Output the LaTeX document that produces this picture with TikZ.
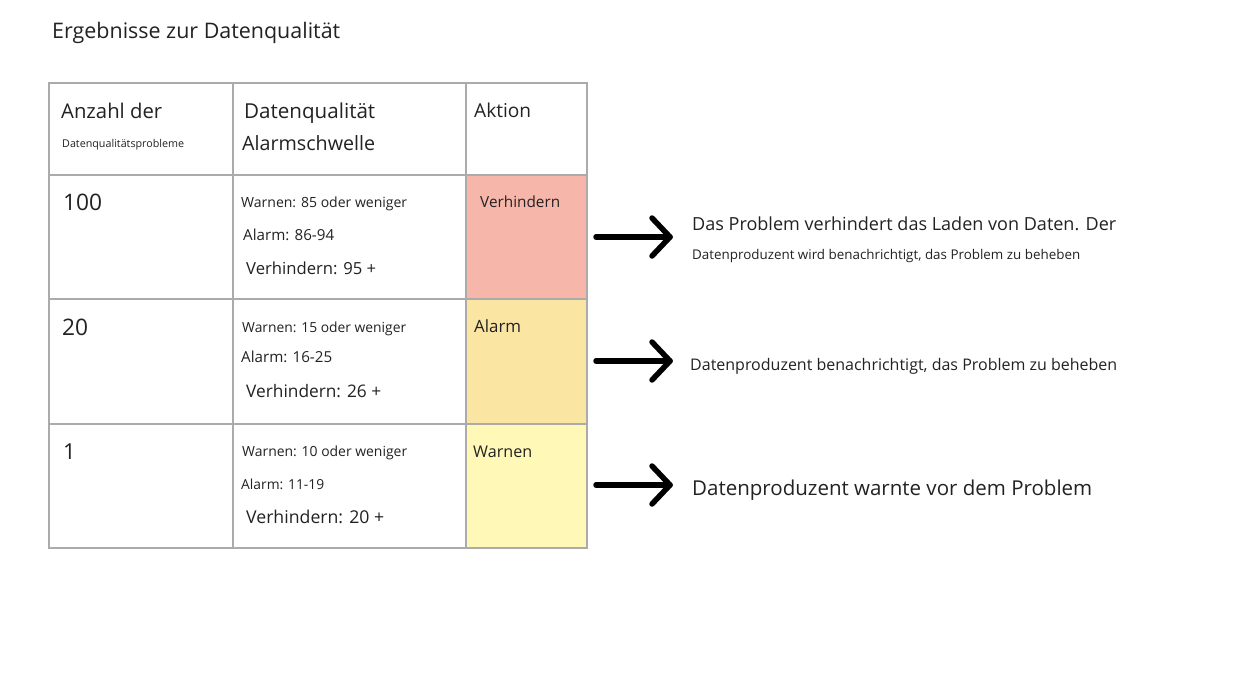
\documentclass[tikz,border=0pt]{standalone}
\usepackage{fontspec}
\setmainfont{Open Sans}
\usepackage{graphicx}
\definecolor{gridc}{HTML}{ABABAB}
\definecolor{textc}{HTML}{222222}
\definecolor{redc}{HTML}{F7B6AA}
\definecolor{orac}{HTML}{FBE5A3}
\definecolor{yelc}{HTML}{FFF8B7}
\newcommand{\fitw}[2]{\resizebox{#1pt}{!}{#2}}
\begin{document}
\begin{tikzpicture}[x=1pt,y=-1pt,
  txt/.style={anchor=base west, inner sep=0pt, text=textc},
  gridline/.style={draw=gridc, line width=2pt},
  arr/.style={line width=5.5pt, line cap=round, line join=round, draw=black}]
\useasboundingbox (0,0) rectangle (1246,680);
\fill[white] (0,0) rectangle (1246,680);
% title
\node[txt] (title) at (52,38) {\fitw{288}{Ergebnisse zur Datenqualität}};
% cell fills
\fill[redc] (466,175) rectangle (587,299);
\fill[orac] (466,299) rectangle (587,424);
\fill[yelc] (466,424) rectangle (587,548);
% grid
\draw[gridline] (49,83) rectangle (587,548);
\draw[gridline] (233,83) -- (233,548);
\draw[gridline] (466,83) -- (466,548);
\draw[gridline] (49,175) -- (587,175);
\draw[gridline] (49,299) -- (587,299);
\draw[gridline] (49,424) -- (587,424);
% header
\node[txt] (h1a) at (61,118) {\fitw{101}{Anzahl der}};
\node[txt] (h1b) at (62,147) {\fitw{122}{Datenqualitätsprobleme}};
\node[txt] (h2a) at (244,118) {\fitw{131}{Datenqualität}};
\node[txt] (h2b) at (242,150) {\fitw{133}{Alarmschwelle}};
\node[txt] (h3) at (474,117) {\fitw{57}{Aktion}};
% row 1
\node[txt] (n1) at (63,210) {\fitw{39}{100}};
\node[txt] (r1a) at (241,207) {\fitw{166}{Warnen: 85 oder weniger}};
\node[txt] (r1b) at (243,240) {\fitw{91}{Alarm: 86-94}};
\node[txt] (r1c) at (246,274) {\fitw{130}{Verhindern: 95 +}};
\node[txt] (act1) at (480,207) {\fitw{80}{Verhindern}};
% row 2
\node[txt] (n2) at (62,335) {\fitw{26}{20}};
\node[txt] (r2a) at (242,332) {\fitw{164}{Warnen: 15 oder weniger}};
\node[txt] (r2b) at (241,362) {\fitw{91}{Alarm: 16-25}};
\node[txt] (r2c) at (246,397) {\fitw{135}{Verhindern: 26 +}};
\node[txt] (act2) at (474,332) {\fitw{47}{Alarm}};
% row 3
\node[txt,font=\fontsize{22}{26}\selectfont] (n3) at (63,459) {1};
\node[txt] (r3a) at (242,456) {\fitw{165}{Warnen: 10 oder weniger}};
\node[txt] (r3b) at (241,489) {\fitw{83}{Alarm: 11-19}};
\node[txt] (r3c) at (246,523) {\fitw{138}{Verhindern: 20 +}};
\node[txt] (act3) at (473,457) {\fitw{59}{Warnen}};
% right texts
\node[txt] (d1a) at (692,230) {\fitw{424}{Das Problem verhindert das Laden von Daten. Der}};
\node[txt] (d1b) at (692,259) {\fitw{388}{Datenproduzent wird benachrichtigt, das Problem zu beheben}};
\node[txt] (d2) at (690,370) {\fitw{427}{Datenproduzent benachrichtigt, das Problem zu beheben}};
\node[txt] (d3) at (692,495) {\fitw{400}{Datenproduzent warnte vor dem Problem}};
% arrows
\coordinate (s1) at (596,237); \coordinate (e1) at (670,237);
\coordinate (s2) at (596,361); \coordinate (e2) at (670,361);
\coordinate (s3) at (596,485); \coordinate (e3) at (670,485);
\foreach \i in {1,2,3}{
  \draw[arr] (s\i) -- (e\i);
  \draw[arr] (e\i) ++(-18,-19) -- (e\i) -- ++(-18,19);
}
\end{tikzpicture}
\end{document}
